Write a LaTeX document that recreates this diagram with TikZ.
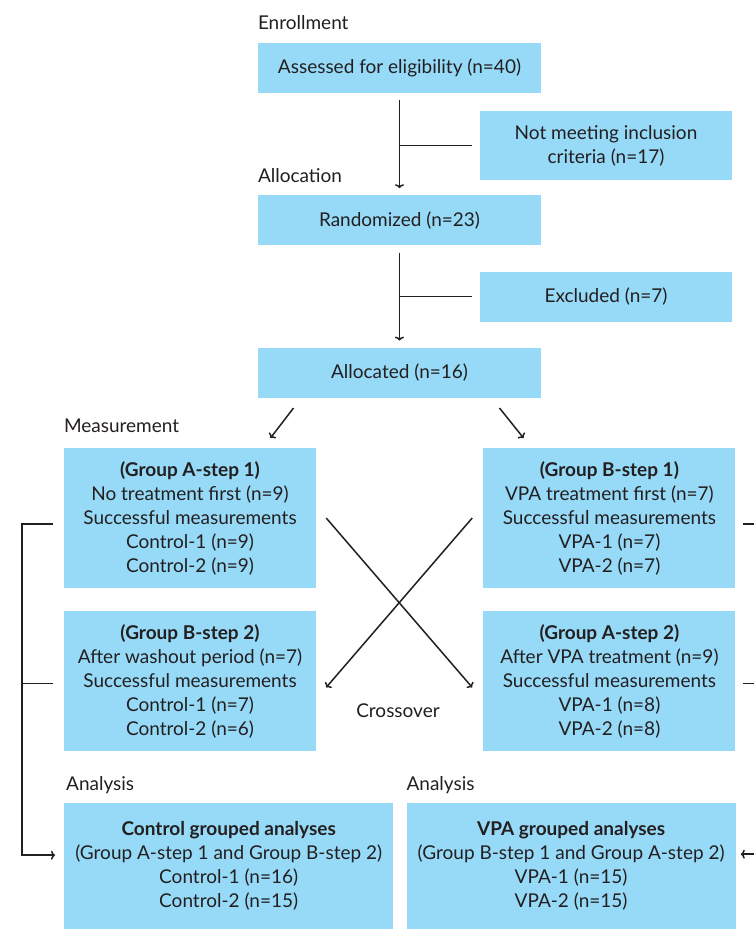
\documentclass[tikz,border=0pt]{standalone}
\usepackage{fontspec}
\setmainfont{Lato}
\usetikzlibrary{positioning,arrows.meta}
\definecolor{flow-blue}{RGB}{150,218,248}
\definecolor{flow-ink}{RGB}{35,31,32}

\begin{document}
\begin{tikzpicture}[x=1pt,y=-1pt,
    box/.style={
      fill=flow-blue, inner sep=0pt, align=center,
      text=flow-ink, font=\fontsize{19}{24}\selectfont},
    mainbox/.style={box, minimum width=283pt, minimum height=50pt},
    sidebox/.style={box, minimum width=252pt, minimum height=50pt},
    groupbox/.style={box, minimum width=252pt, minimum height=140pt},
    resultbox/.style={box, minimum width=329pt, minimum height=126pt},
    phase/.style={inner sep=0pt, anchor=base west, text=flow-ink,
      font=\fontsize{19}{22}\selectfont},
    line/.style={flow-ink, line width=1.5pt},
    arr/.style={line, -{To[length=4pt,width=9pt]}}
  ]
  \clip (0,0) rectangle (754,929);
  % main column
  \node[mainbox] (assess) at (399.5,68) {Assessed for eligibility (n=40)};
  \node[mainbox, below=102pt of assess] (random) {Randomized (n=23)};
  \node[mainbox, below=102pt of random] (alloc) {Allocated (n=16)};
  \node[sidebox, minimum height=69pt] (notmeet) at (606,145.5)
    {Not meeting inclusion\\criteria (n=17)};
  \node[sidebox] (excl) at (606,296.5) {Excluded (n=7)};
  % measurement boxes
  \node[groupbox] (grpA1) at (190,518) {%
    \textbf{(Group A-step 1)}\\
    No treatment first (n=9)\\
    Successful measurements\\
    Control-1 (n=9)\\
    Control-2 (n=9)};
  \node[groupbox, right=167pt of grpA1] (grpB1) {%
    \textbf{(Group B-step 1)}\\
    VPA treatment first (n=7)\\
    Successful measurements\\
    VPA-1 (n=7)\\
    VPA-2 (n=7)};
  \node[groupbox, below=23pt of grpA1] (grpB2) {%
    \textbf{(Group B-step 2)}\\
    After washout period (n=7)\\
    Successful measurements\\
    Control-1 (n=7)\\
    Control-2 (n=6)};
  \node[groupbox, below=23pt of grpB1] (grpA2) {%
    \textbf{(Group A-step 2)}\\
    After VPA treatment (n=9)\\
    Successful measurements\\
    VPA-1 (n=8)\\
    VPA-2 (n=8)};
  % analysis boxes
  \node[resultbox, anchor=north west] (ctrl) at (64,803) {%
    \textbf{Control grouped analyses}\\
    (Group A-step 1 and Group B-step 2)\\
    Control-1 (n=16)\\
    Control-2 (n=15)};
  \node[resultbox, right=13pt of ctrl] (vpa) {%
    \textbf{VPA grouped analyses}\\
    (Group B-step 1 and Group A-step 2)\\
    VPA-1 (n=15)\\
    VPA-2 (n=15)};
  % phase labels
  \node[phase] (enrol) at ([yshift=13pt]assess.north west) {Enrollment};
  \node[phase] (alloclbl) at ([yshift=13pt]random.north west) {Allocation};
  \node[phase] (measure) at ([yshift=15pt]grpA1.north west) {Measurement};
  \node[phase] (anaA) at ([xshift=2pt,yshift=13pt]ctrl.north west) {Analysis};
  \node[phase] (anaB) at ([yshift=13pt]vpa.north west) {Analysis};
  \node[phase, anchor=base] (cross) at (398,717) {Crossover};
  % connectors
  \draw[arr] ([yshift=-7pt]assess.south) -- ([yshift=7pt]random.north);
  \draw[line] ([xshift=-8pt]notmeet.west) -- (notmeet.west -| assess.south);
  \draw[arr] ([yshift=-7pt]random.south) -- ([yshift=7pt]alloc.north);
  \draw[line] ([xshift=-8pt]excl.west) -- (excl.west -| random.south);
  \draw[arr] ([xshift=-106pt,yshift=-10pt]alloc.south)
    -- ([xshift=-129pt,yshift=-40pt]alloc.south);
  \draw[arr] ([xshift=100pt,yshift=-10pt]alloc.south)
    -- ([xshift=124pt,yshift=-40pt]alloc.south);
  \draw[arr] ([xshift=10pt]grpA1.east) -- ([xshift=-11pt,yshift=-6pt]grpA2.west);
  \draw[arr] ([xshift=-11pt]grpB1.west) -- ([xshift=10pt,yshift=-6pt]grpB2.east);
  \draw[arr] ([xshift=-11pt,yshift=-6pt]grpA1.west) -- ++(-31,0)
    |- ([xshift=-9pt,yshift=11pt]ctrl.west);
  \draw[line] ([xshift=-11pt,yshift=-2pt]grpB2.west) -- ++(-31,0);
  \draw[arr] ([xshift=7pt,yshift=-6pt]grpB1.east) -- ++(31,0)
    |- ([xshift=5pt,yshift=12pt]vpa.east);
  \draw[line] ([xshift=7pt,yshift=-2pt]grpA2.east) -- ++(31,0);
\end{tikzpicture}
\end{document}
